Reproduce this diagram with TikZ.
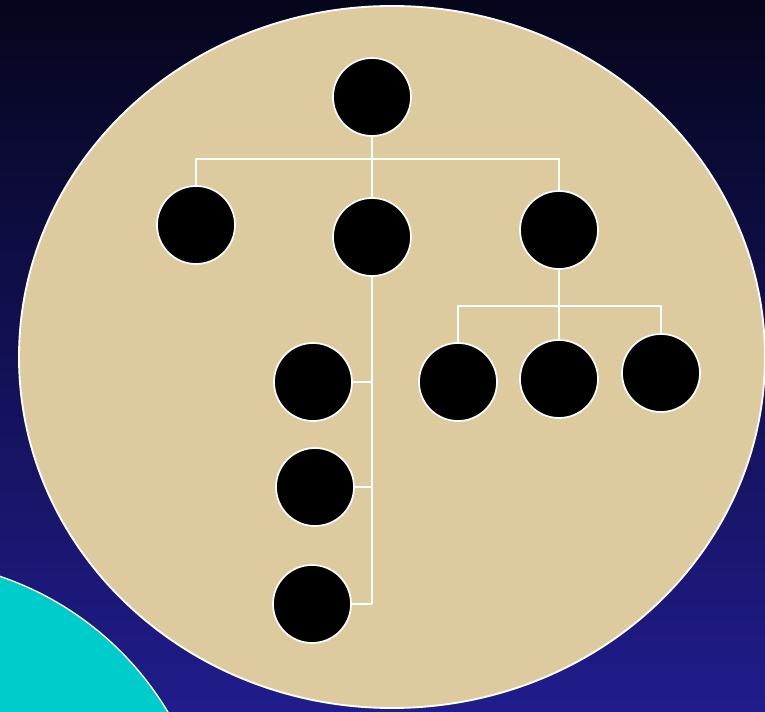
\documentclass[tikz,border=0pt]{standalone}
\usepackage{xcolor}
\usepackage{tikz}
\usetikzlibrary{positioning, calc}

\definecolor{skytop}{RGB}{5,5,28}
\definecolor{skybot}{RGB}{32,28,140}
\definecolor{sand}{RGB}{221,202,158}
\definecolor{aqua}{RGB}{0,204,204}

\begin{document}
\begin{tikzpicture}[x=0.75pt, y=-0.75pt, blob/.style={circle, draw=white, line width=1.3pt, fill=black, minimum size=58.5pt, inner sep=0pt}, link/.style={draw=white, line width=1.5pt}]
        \useasboundingbox (0,0) rectangle (765,712);
        \clip (0,0) rectangle (765,712);
        \shade[top color=skytop, bottom color=skybot] (0,0) rectangle (765,712);
        \filldraw[fill=aqua, draw=white, line width=1pt] (-100,872) circle [radius=312];
        \filldraw[fill=sand, draw=white, line width=1.4pt] (392,357) ellipse [x radius=373, y radius=351];

        \node[blob] (root) at (372,97) {};
        \node[blob] (left) at (196,225) {};
        \node[blob] (mid) at (372,237) {};
        \node[blob] (right) at (559,230) {};
        \node[blob] (rkid1) at (458,382) {};
        \node[blob] (rkid2) at (559,379) {};
        \node[blob] (rkid3) at (661,373) {};
        \node[blob] (mkid1) at (313,382) {};
        \node[blob] (mkid2) at (315,487) {};
        \node[blob] (mkid3) at (312,604) {};

        \coordinate (top bar) at (372,159);
        \coordinate (right bar) at (559,306);

        \draw[link] (root) -- (top bar);
        \draw[link] (left) |- (top bar) -| (right);
        \draw[link] (top bar) -- (mid);
        \draw[link] (right) -- (right bar);
        \draw[link] (rkid1) |- (right bar) -| (rkid3);
        \draw[link] (right bar) -- (rkid2);
        \draw[link] (mid) -- (mid |- mkid3);
        \draw[link] (mkid1) -- (mkid1 -| mid);
        \draw[link] (mkid2) -- (mkid2 -| mid);
        \draw[link] (mkid3) -- (mkid3 -| mid);
    \end{tikzpicture}
\end{document}
